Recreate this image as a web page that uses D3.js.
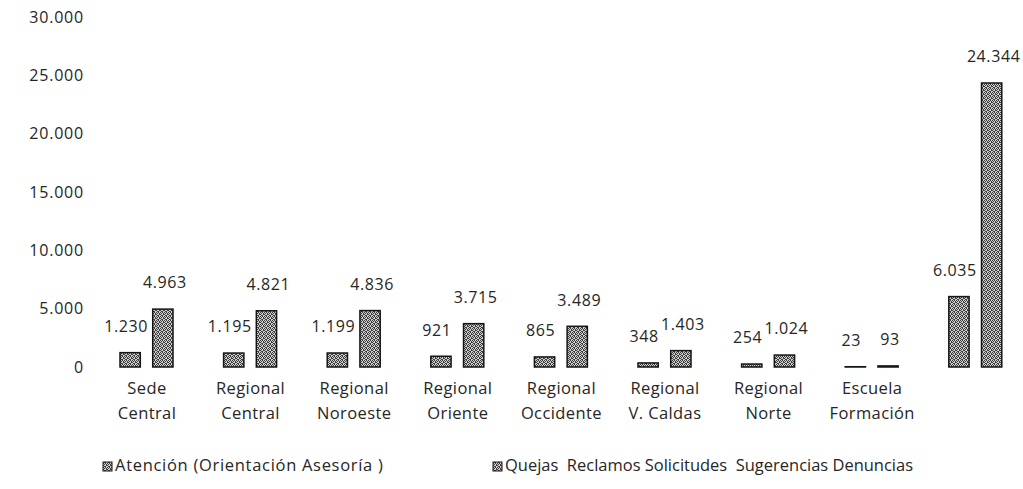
<!DOCTYPE html>
<html>
<head>
<meta charset="utf-8">
<script src="https://cdn.jsdelivr.net/npm/d3@7"></script>
<style>
  html, body { margin: 0; padding: 0; background: #fff; }
  svg { display: block; }
  text { font-family: "Open Sans", "Noto Sans", sans-serif; fill: #262626; }
</style>
</head>
<body>
<svg id="chart" width="1023" height="489"></svg>
<script>
// ---- data ----
const categories = ["Sede Central", "Regional Central", "Regional Noroeste", "Regional Oriente",
  "Regional Occidente", "Regional V. Caldas", "Regional Norte", "Escuela Formación", "Total"];
const categoryLines = [["Sede", "Central"], ["Regional", "Central"], ["Regional", "Noroeste"],
  ["Regional", "Oriente"], ["Regional", "Occidente"], ["Regional", "V. Caldas"],
  ["Regional", "Norte"], ["Escuela", "Formación"], []];
const seriesNames = ["Atención (Orientación Asesoría )", "Quejas  Reclamos Solicitudes  Sugerencias Denuncias"];
const atencion = [1230, 1195, 1199, 921, 865, 348, 254, 23, 6035];
const quejas = [4963, 4821, 4836, 3715, 3489, 1403, 1024, 93, 24344];
const yTicks = [0, 5000, 10000, 15000, 20000, 25000, 30000];

const svg = d3.select("#chart");
const locale = d3.formatLocale({ decimal: ",", thousands: ".", grouping: [3], currency: ["$", ""] });
const fmt = locale.format(",d");

const x = d3.scaleBand().domain(categories).range([95.2, 1027.6]).padding(0);
const sub = d3.scaleBand().domain([0, 1]).range([-27, 26]).paddingInner(0.38).paddingOuter(0);
const y = d3.scaleLinear().domain([0, 30000]).range([367, 17]);

// stippled texture for bars
const defs = svg.append("defs");
const pat = defs.append("pattern").attr("id", "tex").attr("patternUnits", "userSpaceOnUse")
  .attr("width", 4).attr("height", 4);
pat.append("rect").attr("width", 4).attr("height", 4).attr("fill", "#d0d0d0");
[[0,0],[2,0],[1,1],[3,1],[0,2],[3,2],[1,3],[2,3]].forEach(([a,b]) =>
  pat.append("rect").attr("x", a).attr("y", b).attr("width", 1).attr("height", 1).attr("fill", "#3c3c3c"));

// y axis labels
const yAxis = d3.axisLeft(y).tickValues(yTicks).tickSize(0).tickPadding(0)
  .tickFormat(d => fmt(d));
const ya = svg.append("g").attr("transform", "translate(84,0)").call(yAxis);
ya.select(".domain").remove();
ya.selectAll("text").style("font-size", "16px").style("font-family", "\"Open Sans\", sans-serif")
  .attr("fill", "#262626").attr("letter-spacing", "0.8px");

// bars + value labels
const series = [atencion, quejas];
const labelShift = [-4, 2];
series.forEach((vals, si) => {
  svg.append("g").selectAll("rect").data(vals).join("rect")
    .attr("x", (d, i) => x(categories[i]) + x.bandwidth() / 2 + sub(si))
    .attr("width", sub.bandwidth())
    .attr("y", d => y(d))
    .attr("height", d => y(0) - y(d))
    .attr("fill", "url(#tex)")
    .attr("stroke", "#151515").attr("stroke-width", 1.5);
  svg.append("g").selectAll("text").data(vals).join("text")
    .attr("x", (d, i) => x(categories[i]) + x.bandwidth() / 2 + sub(si) + sub.bandwidth() / 2 + labelShift[si])
    .attr("y", d => y(d) - 25)
    .attr("text-anchor", "middle").attr("dominant-baseline", "middle")
    .style("font-size", "16px").attr("letter-spacing", "0.6px")
    .text(d => fmt(d));
});

// category labels
const xl = svg.append("g");
categories.forEach((c, i) => {
  const t = xl.append("text").attr("x", x(c) + x.bandwidth() / 2).attr("y", 394)
    .attr("text-anchor", "middle").style("font-size", "16.5px").attr("letter-spacing", "0.4px");
  categoryLines[i].forEach((line, li) => {
    t.append("tspan").attr("x", x(c) + x.bandwidth() / 2).attr("dy", li === 0 ? 0 : 25).text(line);
  });
});

// legend
const legendX = [103, 493];
seriesNames.forEach((n, i) => {
  const g = svg.append("g").attr("transform", `translate(${legendX[i]},467)`);
  g.append("rect").attr("x", 0).attr("y", -5).attr("width", 9).attr("height", 9)
    .attr("fill", "url(#tex)").attr("stroke", "#151515").attr("stroke-width", 1);
  const t = g.append("text").attr("x", 12).attr("y", 0).attr("dominant-baseline", "middle")
    .attr("xml:space", "preserve").style("white-space", "pre")
    .style("font-size", "16.5px").text(n);
  if (i === 0) t.attr("letter-spacing", "0.7px");
  else t.attr("textLength", 408).attr("lengthAdjust", "spacingAndGlyphs");
});
</script>
</body>
</html>
